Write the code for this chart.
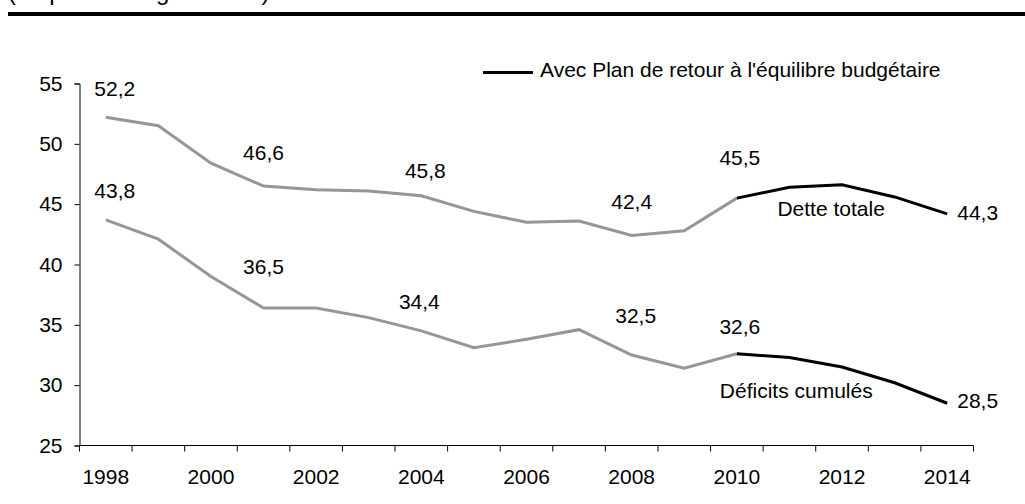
<!DOCTYPE html>
<html>
<head>
<meta charset="utf-8">
<script src="https://cdn.jsdelivr.net/npm/d3@7"></script>
<style>
  body { margin: 0; background: #fff; }
  text { font-family: 'Liberation Sans', Arial, sans-serif; fill: #000; }
</style>
</head>
<body>
<div id="chart"></div>
<script>
const years = d3.range(1998, 2015)
const detteTotale = [52.2, 51.5, 48.4, 46.5, 46.2, 46.1, 45.7, 44.4, 43.5, 43.6, 42.4, 42.8, 45.5, 46.4, 46.6, 45.6, 44.2]
const deficitsCumules = [43.7, 42.1, 39.0, 36.4, 36.4, 35.6, 34.5, 33.1, 33.8, 34.6, 32.5, 31.4, 32.6, 32.3, 31.5, 30.2, 28.5]
const yTicks = [25, 30, 35, 40, 45, 50, 55]
const planStart = 2010

// value labels: [year, series, text]
const valueLabels = [
  [1998, 'dette', '52,2'],
  [2001, 'dette', '46,6'],
  [2004, 'dette', '45,8'],
  [2008, 'dette', '42,4'],
  [2010, 'dette', '45,5'],
  [1998, 'deficits', '43,8'],
  [2001, 'deficits', '36,5'],
  [2004, 'deficits', '34,4'],
  [2008, 'deficits', '32,5'],
  [2010, 'deficits', '32,6']
]
// manual nudges (dx, dy) of each label from its point, same order
const labelNudge = [
  [9, -21], [0, -26], [4, -18], [0, -27], [3, -33],
  [9, -22], [0, -34], [-2, -22], [4, -32], [3, -20]
]

const width = 1025
const height = 504
const fontSize = 21

const svg = d3
  .select('#chart')
  .append('svg')
  .attr('width', width)
  .attr('height', height)

// header remnant and rule
svg
  .append('text')
  .attr('x', 8)
  .attr('y', 0)
  .attr('font-size', 24)
  .text('(en pourcentage du PIB)')
svg
  .append('rect')
  .attr('x', 8)
  .attr('y', 12)
  .attr('width', width - 8)
  .attr('height', 4)
  .attr('fill', '#000')

const xScale = d3
  .scaleBand()
  .domain(years)
  .range([79.5, 973.5])

const yScale = d3
  .scaleLinear()
  .domain([25, 55])
  .range([445.5, 83.5])

const xCenter = d => xScale(d) + xScale.bandwidth() / 2

// y axis
const yAxis = d3
  .axisLeft(yScale)
  .tickValues(yTicks)
  .tickSize(5)
  .tickPadding(12)
  .tickFormat(d3.format('d'))
svg
  .append('g')
  .attr('transform', 'translate(79.5,0)')
  .call(yAxis)
  .call(g => g.selectAll('path, line').attr('stroke', '#000'))
  .call(g => g.selectAll('text').attr('font-size', fontSize).attr('font-family', 'Liberation Sans, Arial, sans-serif'))

// x axis with ticks on band boundaries
const xAxisG = svg.append('g').attr('transform', 'translate(0,445.5)')
xAxisG
  .append('line')
  .attr('x1', xScale.range()[0])
  .attr('x2', xScale.range()[1])
  .attr('stroke', '#000')
xAxisG
  .selectAll('.xtick')
  .data(years.concat([years[years.length - 1] + 1]))
  .enter()
  .append('line')
  .attr('class', 'xtick')
  .attr('x1', (d, i) => xScale.range()[0] + i * xScale.step())
  .attr('x2', (d, i) => xScale.range()[0] + i * xScale.step())
  .attr('y1', 0)
  .attr('y2', 6)
  .attr('stroke', '#000')
xAxisG
  .selectAll('.xlabel')
  .data(years.filter(d => d % 2 === 0))
  .enter()
  .append('text')
  .attr('class', 'xlabel')
  .attr('x', d => xCenter(d))
  .attr('y', 38)
  .attr('text-anchor', 'middle')
  .attr('font-size', fontSize)
  .text(d => d)

const line = d3
  .line()
  .x(d => xCenter(d.year))
  .y(d => yScale(d.value))

const series = {
  dette: years.map((y, i) => ({ year: y, value: detteTotale[i] })),
  deficits: years.map((y, i) => ({ year: y, value: deficitsCumules[i] }))
}

Object.keys(series).forEach(key => {
  const pts = series[key]
  svg
    .append('path')
    .datum(pts.filter(d => d.year <= planStart))
    .attr('d', line)
    .attr('fill', 'none')
    .attr('stroke', '#969696')
    .attr('stroke-width', 3)
  svg
    .append('path')
    .datum(pts.filter(d => d.year >= planStart))
    .attr('d', line)
    .attr('fill', 'none')
    .attr('stroke', '#000')
    .attr('stroke-width', 3)
})

// value labels
svg
  .selectAll('.vlabel')
  .data(valueLabels)
  .enter()
  .append('text')
  .attr('class', 'vlabel')
  .attr('x', (d, i) => xCenter(d[0]) + labelNudge[i][0])
  .attr('y', (d, i) => yScale(series[d[1]][years.indexOf(d[0])].value) + labelNudge[i][1])
  .attr('text-anchor', 'middle')
  .attr('font-size', fontSize)
  .text(d => d[2])

// end labels
const last = years.length - 1
svg
  .append('text')
  .attr('x', xCenter(years[last]) + 10)
  .attr('y', yScale(detteTotale[last]) + 6)
  .attr('font-size', fontSize)
  .text('44,3')
svg
  .append('text')
  .attr('x', xCenter(years[last]) + 10)
  .attr('y', yScale(deficitsCumules[last]) + 5)
  .attr('font-size', fontSize)
  .text('28,5')

// series names
svg
  .append('text')
  .attr('x', xCenter(2011) - 12)
  .attr('y', yScale(detteTotale[years.indexOf(2011)]) + 29)
  .attr('font-size', fontSize)
  .text('Dette totale')
svg
  .append('text')
  .attr('x', xCenter(2010) - 17)
  .attr('y', yScale(deficitsCumules[years.indexOf(2010)]) + 44)
  .attr('font-size', fontSize)
  .text('Déficits cumulés')

// legend
svg
  .append('line')
  .attr('x1', 483)
  .attr('x2', 533)
  .attr('y1', 72.5)
  .attr('y2', 72.5)
  .attr('stroke', '#000')
  .attr('stroke-width', 3)
svg
  .append('text')
  .attr('x', 540)
  .attr('y', 77)
  .attr('font-size', fontSize)
  .text("Avec Plan de retour à l'équilibre budgétaire")
</script>
</body>
</html>
